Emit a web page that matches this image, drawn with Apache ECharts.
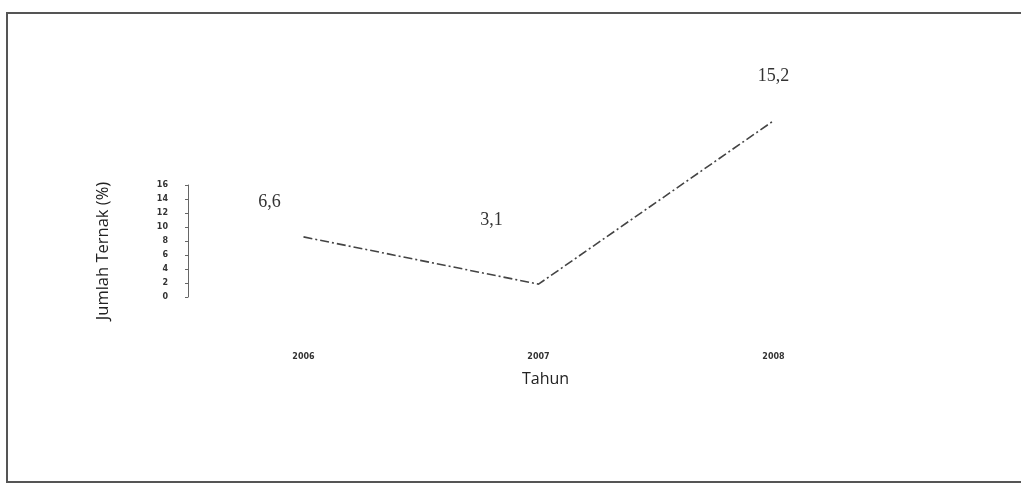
<!DOCTYPE html>
<html>
<head>
<meta charset="utf-8">
<script src="https://cdn.jsdelivr.net/npm/echarts@6/dist/echarts.min.js"></script>
<style>
  html, body { margin: 0; padding: 0; background: #fff; }
  #chart { width: 1021px; height: 484px; }
</style>
</head>
<body>
<div id="chart"></div>
<script>
// data
var years = ['2006', '2007', '2008'];
var jumlahTernak = [6.6, 3.1, 15.2];
var valueLabels = ['6,6', '3,1', '15,2'];
// label offsets so the numbers sit where the scan put them
var labelOffsets = [[-34, -20], [-47, -49], [0, -30]];

var chart = echarts.init(document.getElementById('chart'));

var points = jumlahTernak.map(function (v, i) {
  return {
    value: v,
    label: {
      formatter: valueLabels[i],
      offset: labelOffsets[i]
    }
  };
});

var tickFont = {
  fontFamily: 'DejaVu Sans',
  fontSize: 8,
  fontWeight: 'bold',
  color: '#333'
};

var option = {
  backgroundColor: '#fff',
  animation: false,
  graphic: [{
    type: 'rect',
    shape: { x: 7, y: 13, width: 1020, height: 469 },
    style: { fill: 'none', stroke: '#555', lineWidth: 2 }
  }],
  // grid 0: the drawn (short) y axis of the scan, grid 1: the plotted line
  grid: [
    { left: 188, right: 128, top: 185, bottom: 187 },
    { left: 186, right: 130, top: 110, bottom: 158 }
  ],
  xAxis: [{
    type: 'category',
    gridIndex: 0,
    data: years,
    show: false
  }, {
    type: 'category',
    gridIndex: 1,
    data: years,
    name: 'Tahun',
    nameLocation: 'middle',
    nameGap: 45,
    nameTextStyle: { fontFamily: 'Open Sans', fontSize: 16, color: '#222', padding: [0, 0, 0, 14] },
    axisLine: { show: false },
    axisTick: { show: false },
    axisLabel: Object.assign({ margin: 27 }, tickFont)
  }],
  yAxis: [{
    type: 'value',
    gridIndex: 0,
    min: 0,
    max: 16,
    interval: 2,
    name: 'Jumlah Ternak (%)',
    nameLocation: 'middle',
    nameGap: 76,
    nameTextStyle: { fontFamily: 'Open Sans', fontSize: 16.5, color: '#222', padding: [0, 20, 0, 0] },
    splitLine: { show: false },
    axisLine: { show: true, lineStyle: { color: '#666', width: 1 } },
    axisTick: { show: true, length: 3, lineStyle: { color: '#666' } },
    axisLabel: Object.assign({ margin: 20 }, tickFont)
  }, {
    type: 'value',
    gridIndex: 1,
    min: 0,
    max: 16,
    show: false,
    splitLine: { show: false }
  }],
  series: [{
    type: 'line',
    xAxisIndex: 1,
    yAxisIndex: 1,
    data: points,
    symbol: 'circle',
    symbolSize: 1,
    showSymbol: true,
    itemStyle: { color: 'rgba(0,0,0,0)' },
    lineStyle: { color: '#444', width: 1.6, type: [9, 3, 2, 3] },
    label: {
      show: true,
      position: 'top',
      fontFamily: 'Liberation Serif',
      fontSize: 18,
      color: '#333'
    }
  }]
};

chart.setOption(option);
</script>
</body>
</html>
